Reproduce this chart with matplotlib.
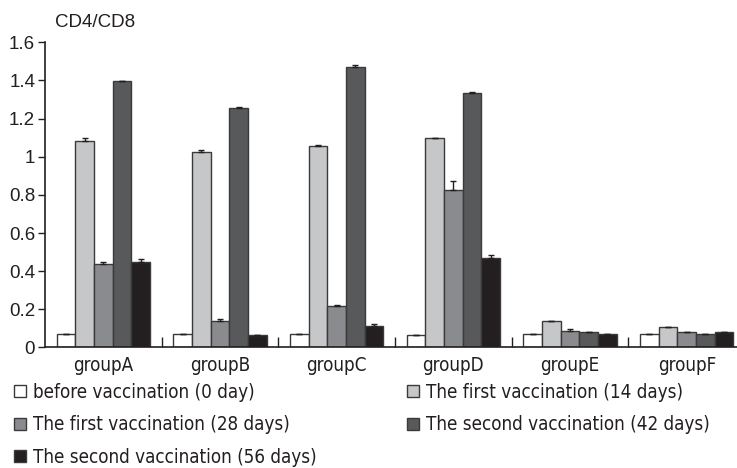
import numpy as np
import matplotlib.pyplot as plt
from matplotlib.patches import Patch

groups = ['groupA', 'groupB', 'groupC', 'groupD', 'groupE', 'groupF']
series = ['before vaccination (0 day)', 'The first vaccination (14 days)',
          'The first vaccination (28 days)', 'The second vaccination (42 days)',
          'The second vaccination (56 days)']
colors = ['#ffffff', '#c6c7c9', '#8a8b8e', '#58595b', '#231f20']

day0 = [0.069, 0.070, 0.072, 0.064, 0.072, 0.072]
day14 = [1.081, 1.025, 1.058, 1.100, 0.141, 0.109]
day28 = [0.438, 0.137, 0.219, 0.826, 0.088, 0.083]
day42 = [1.397, 1.257, 1.471, 1.333, 0.080, 0.072]
day56 = [0.448, 0.066, 0.114, 0.471, 0.069, 0.081]

err0 = [0, 0, 0, 0, 0, 0]
err14 = [0.020, 0.012, 0.005, 0, 0, 0]
err28 = [0.009, 0.011, 0.005, 0.045, 0.007, 0]
err42 = [0, 0.005, 0.009, 0.005, 0, 0]
err56 = [0.014, 0, 0.008, 0.016, 0, 0]

values = [day0, day14, day28, day42, day56]
errors = [err0, err14, err28, err42, err56]

narrow = {'family': 'DejaVu Sans', 'stretch': 'condensed', 'size': 13.5}

fig = plt.figure(figsize=(7.37, 4.68), dpi=100)
ax = fig.add_axes([0.061, 0.2575, 0.95, 0.652])

x = np.arange(len(groups))
w = 0.16
for i, (vals, errs, c) in enumerate(zip(values, errors, colors)):
    pos = x + (i - 2) * w
    ax.bar(pos, vals, width=w, color=c, edgecolor='#3a3a3a', linewidth=1.0)
    e = np.array(errs)
    ax.errorbar(pos, vals, yerr=[np.zeros_like(e), e], fmt='none', ecolor='#231f20',
                elinewidth=1.0, capsize=2.5, capthick=1.0)

ax.set_xlim(-0.5, 5.5)
ax.set_ylim(0, 1.6)
ax.set_yticks([0, 0.2, 0.4, 0.6, 0.8, 1.0, 1.2, 1.4, 1.6])
ax.set_yticklabels(['0', '0.2', '0.4', '0.6', '0.8', '1', '1.2', '1.4', '1.6'],
                   family='Liberation Sans', fontsize=13.5, color='#231f20')
ax.set_xticks(x)
ax.set_xticklabels(groups, color='#231f20', **narrow)
ax.tick_params(axis='x', length=0, pad=6)
ax.set_xticks(x[:-1] + 0.5, minor=True)
ax.tick_params(axis='x', which='minor', direction='in', length=7, width=1, color='#231f20')
ax.tick_params(axis='y', direction='out', length=5, width=1, color='#231f20', pad=2)
for s in ['top', 'right']:
    ax.spines[s].set_visible(False)
for s in ['left', 'bottom']:
    ax.spines[s].set_color('#231f20')
    ax.spines[s].set_linewidth(1.2)

fig.text(0.0746, 0.952, 'CD4/CD8', family='Liberation Sans', fontsize=13.5,
         va='center', color='#231f20')

# two legend columns, filled row by row
handles = [Patch(facecolor=c, edgecolor='#3a3a3a', linewidth=1.0) for c in colors]
common = dict(loc='upper left', frameon=False, prop=narrow, handlelength=0.64,
              handleheight=0.64, handletextpad=0.37, labelspacing=0.72,
              borderaxespad=0, borderpad=0, labelcolor='#231f20')
fig.legend([handles[i] for i in (0, 2, 4)], [series[i] for i in (0, 2, 4)],
           bbox_to_anchor=(0.019, 0.182), **common)
fig.legend([handles[i] for i in (1, 3)], [series[i] for i in (1, 3)],
           bbox_to_anchor=(0.552, 0.182), **common)

fig.savefig('out.png', dpi=100)
